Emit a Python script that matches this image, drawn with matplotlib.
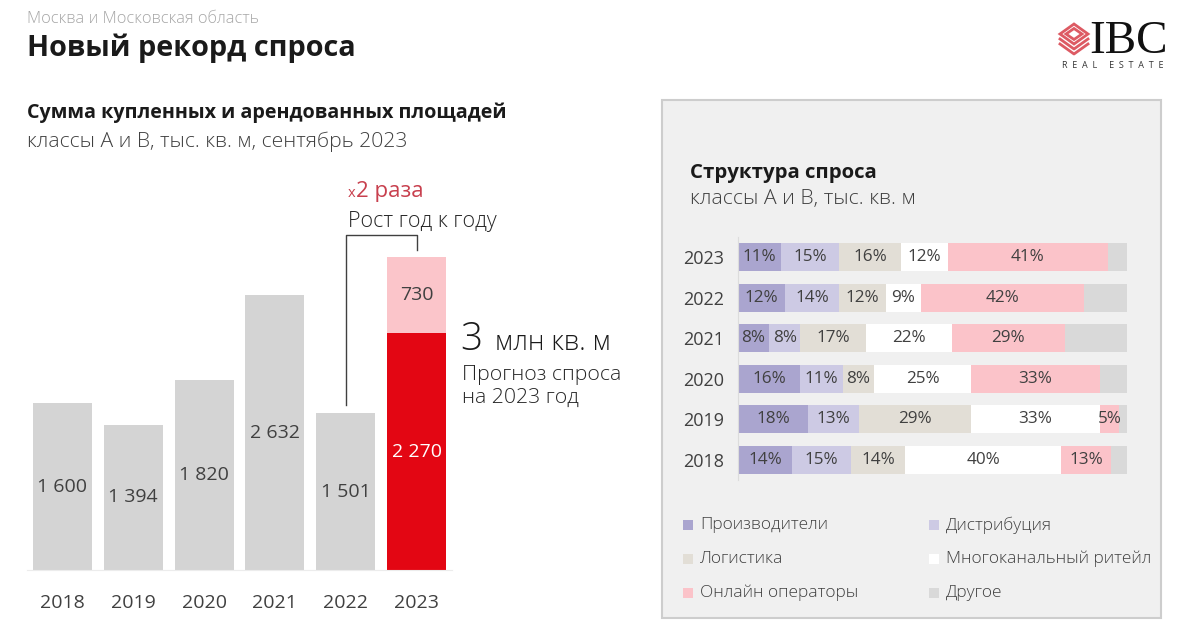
import matplotlib
matplotlib.use("Agg")
import matplotlib.pyplot as plt
from matplotlib.patches import Rectangle, Polygon

# ---------------- data ----------------
years = ['2018', '2019', '2020', '2021', '2022', '2023']
demand = [1600, 1394, 1820, 2632, 1501, 2270]
forecast_extra = [0, 0, 0, 0, 0, 730]
demand_labels = ['1 600', '1 394', '1 820', '2 632', '1 501', '2 270']
extra_labels = ['', '', '', '', '', '730']

struct_years = ['2018', '2019', '2020', '2021', '2022', '2023']
producers = [14, 18, 16, 8, 12, 11]
distribution = [15, 13, 11, 8, 14, 15]
logistics = [14, 29, 8, 17, 12, 16]
omnichannel = [40, 33, 25, 22, 9, 12]
online = [13, 5, 33, 29, 42, 41]
other = [4, 2, 7, 16, 11, 5]
series_names = ['Производители', 'Дистрибуция', 'Логистика',
                'Многоканальный ритейл', 'Онлайн операторы', 'Другое']

# ---------------- style ----------------
FONT = ['Open Sans', 'DejaVu Sans']
plt.rcParams['font.family'] = FONT
W, H, DPI = 1179, 630, 100
DARK = '#404040'
GRAY_BAR = '#d4d4d4'
RED = '#e30613'
PINK = '#fbc5ca'
series_colors = ['#aaa5cf', '#cdcae4', '#e2ded6', '#ffffff', '#fbc3c9', '#d9d9d9']

fig = plt.figure(figsize=(W / DPI, H / DPI), dpi=DPI)
fig.patch.set_facecolor('white')


def fx(x):
    return x / W


def fy(y):
    return 1 - y / H


def axrect(l, t, r, b):
    return [l / W, 1 - b / H, (r - l) / W, (b - t) / H]


def ftext(x, y, s, **kw):
    kw.setdefault('va', 'baseline')
    return fig.text(fx(x), fy(y), s, **kw)


# ---------------- right panel background ----------------
fig.patches.append(Rectangle((fx(662), fy(618)), (1161 - 662) / W, (618 - 100) / H,
                             transform=fig.transFigure, fc='#f0f0f0', ec='#cdcdcd',
                             lw=1.5, zorder=-5))

# ---------------- headers ----------------
ftext(27, 23, 'Москва и Московская область', fontsize=11.8, fontweight='light',
      color='#a6a6a6')
ftext(27, 56, 'Новый рекорд спроса', fontsize=20.8, fontweight='bold', color='#1a1a1a')
ftext(27, 118, 'Сумма купленных и арендованных площадей', fontsize=14.2,
      fontweight='bold', color='#1a1a1a')
ftext(27, 147, 'классы А и В, тыс. кв. м, сентябрь 2023', fontsize=15.2,
      fontweight='light', color=DARK)

# ---------------- logo ----------------
lc = '#dd5a63'
cx, cy = 1074, 34
for dy, hw, hh in [(0, 14, 10), (0, 8, 5.5)]:
    fig.patches.append(Polygon([(fx(cx - hw), fy(cy + dy)), (fx(cx), fy(cy + dy - hh)),
                                (fx(cx + hw), fy(cy + dy)), (fx(cx), fy(cy + dy + hh))],
                               closed=True, fill=False, ec=lc, lw=2,
                               transform=fig.transFigure))
for dy in (5, 10):
    fig.lines.append(plt.Line2D([fx(cx - 14), fx(cx), fx(cx + 14)],
                                [fy(cy + dy), fy(cy + dy + 10), fy(cy + dy)],
                                color=lc, lw=2, transform=fig.transFigure))
ftext(1089, 53, 'IBC', fontsize=34, family=['Liberation Serif'], color='#111111')
ftext(1112.5, 68, 'R  E  A  L     E  S  T  A  T  E', fontsize=6.5, color='#333333',
      ha='center')

# ---------------- left bar chart ----------------
ax1 = fig.add_axes(axrect(27, 257, 452, 570))
x = list(range(len(years)))
colors1 = [GRAY_BAR] * 5 + [RED]
ax1.bar(x, demand, width=0.835, color=colors1, zorder=2)
ax1.bar(x, forecast_extra, bottom=demand, width=0.835, color=PINK, zorder=2)
ax1.set_xlim(-0.5, 5.5)
ax1.set_ylim(0, 3000)
for s in ['top', 'right', 'left']:
    ax1.spines[s].set_visible(False)
ax1.spines['bottom'].set_color('#ececec')
ax1.set_yticks([])
ax1.set_xticks(x, years)
ax1.tick_params(axis='x', length=0, pad=17, labelsize=14, labelcolor=DARK)
ax1.patch.set_alpha(0)
for i in x:
    ax1.text(i, demand[i] / 2, demand_labels[i], ha='center', va='center',
             fontsize=14, color='white' if i == 5 else DARK, zorder=3)
    if forecast_extra[i]:
        ax1.text(i, demand[i] + forecast_extra[i] / 2, extra_labels[i], ha='center',
                 va='center', fontsize=14, color=DARK, zorder=3)

# bracket (growth year to year)
ax1.plot([4, 4, 5, 5], [1580, 3210, 3210, 3070], color=DARK, lw=1, clip_on=False)
ftext(348, 197, 'x', fontsize=10.5, color='#c8404e')
ftext(356, 197, '2 раза', fontsize=16, color='#c8404e')
ftext(348, 227, 'Рост год к году', fontsize=15.5, fontweight='light', color='#262626')
ftext(460, 350, '3', fontsize=28, fontweight='light', color='#1a1a1a')
ftext(495, 350, 'млн кв. м', fontsize=19.5, fontweight='light', color='#1a1a1a')
ftext(462, 380, 'Прогноз спроса', fontsize=15.3, fontweight='light', color='#262626')
ftext(462, 403, 'на 2023 год', fontsize=15.3, fontweight='light', color='#262626')

# ---------------- right panel ----------------
ftext(690, 178, 'Структура спроса', fontsize=14.7, fontweight='bold', color='#1a1a1a')
ftext(690, 204, 'классы А и В, тыс. кв. м', fontsize=15.3, fontweight='light', color=DARK)

ax2 = fig.add_axes(axrect(738, 236.7, 1127, 480.3))
ax2.patch.set_alpha(0)
series = [producers, distribution, logistics, omnichannel, online, other]
y = list(range(len(struct_years)))
left = [0] * len(y)
for k, vals in enumerate(series):
    ax2.barh(y, vals, left=left, height=0.69, color=series_colors[k], zorder=2)
    if k < 5:
        for j in y:
            ax2.text(left[j] + vals[j] / 2, j, f'{vals[j]}%', ha='center', va='center',
                     fontsize=12.3, color=DARK, zorder=3)
    left = [a + b for a, b in zip(left, vals)]
ax2.set_xlim(0, 100)
ax2.set_ylim(-0.5, 5.5)
for s in ['top', 'right', 'bottom']:
    ax2.spines[s].set_visible(False)
ax2.spines['left'].set_color('#dcdcdc')
ax2.spines['left'].set_linewidth(0.8)
ax2.set_xticks([])
ax2.set_yticks(y, struct_years)
ax2.tick_params(axis='y', length=0, pad=10, labelsize=13, labelcolor=DARK)

# legend
leg_pos = [(683, 525), (929, 525), (683, 559), (929, 559), (683, 593), (929, 593)]
for k, (lx, ly) in enumerate(leg_pos):
    fig.patches.append(Rectangle((fx(lx), fy(ly + 5)), 10 / W, 10 / H,
                                 transform=fig.transFigure, fc=series_colors[k],
                                 ec='none', zorder=1))
    fig.text(fx(lx + 17), fy(ly), series_names[k], fontsize=12.5, va='center',
             color=DARK, fontweight='light')

fig.savefig('out.png', dpi=DPI)
